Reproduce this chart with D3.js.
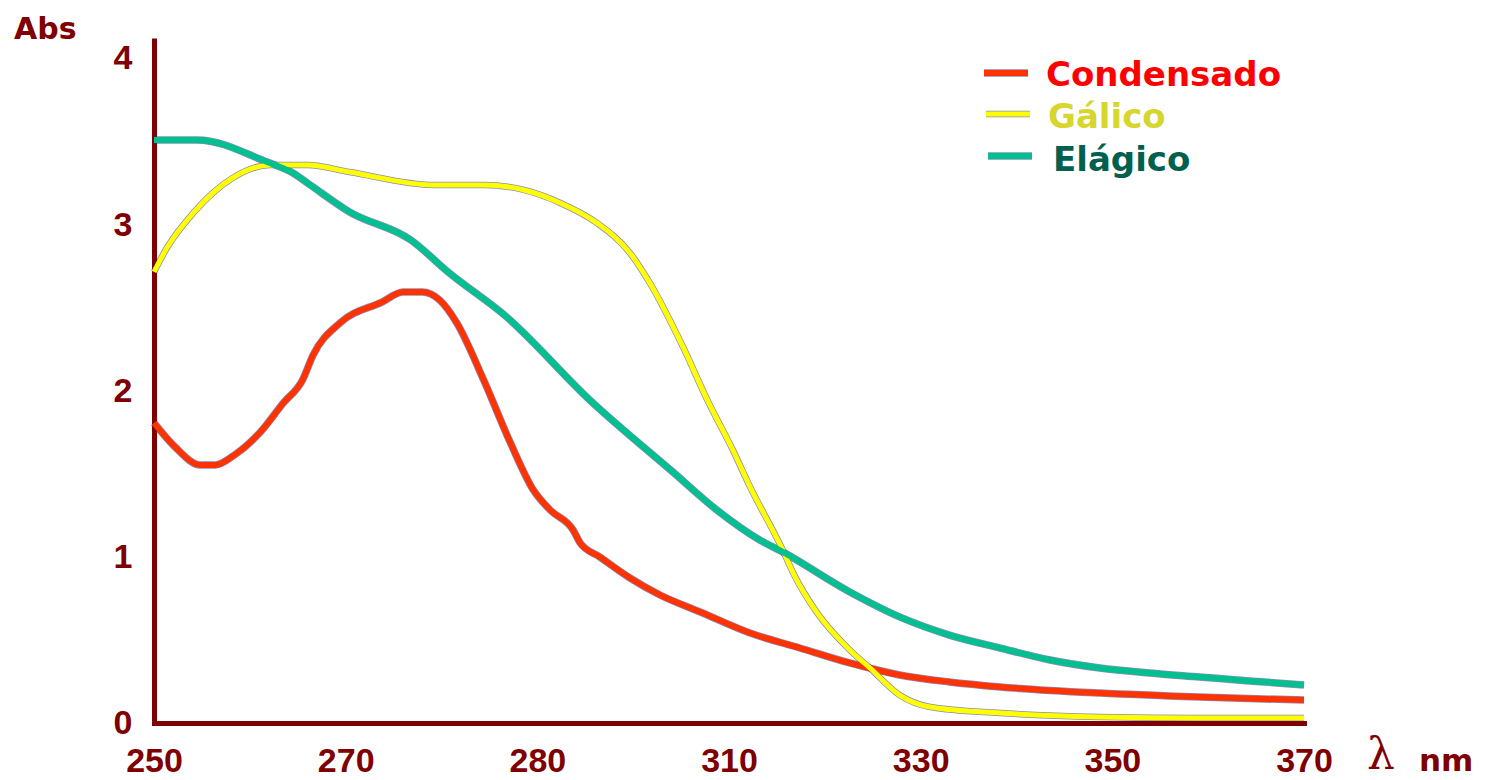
<!DOCTYPE html>
<html>
<head>
<meta charset="utf-8">
<script src="https://cdn.jsdelivr.net/npm/d3@7"></script>
<style>
  body { margin: 0; background: #fff; }
  svg { display: block; }
</style>
</head>
<body>
<svg id="chart"></svg>
<script>
"use strict";
// wavelength ticks (evenly spaced on the original, even though the values are not)
var xTicks = [250, 270, 280, 310, 330, 350, 370];
var yTicks = [0, 1, 2, 3, 4];

// Condensado
var condWl  = [250, 252.2, 254.8, 256.4, 258.4, 261.1, 263.5, 265.5, 266.6, 269.4, 271.9, 273.0, 274.0, 274.9, 275.8, 277.2, 278.6, 279.8, 282.0, 285.6, 286.7, 289.8, 294.5, 299.2, 305.5, 312.2, 317.4, 322.6, 327.8, 333.0, 338.3, 348.7, 359.1, 370];
var condAbs = [1.805, 1.66, 1.552, 1.552, 1.612, 1.75, 1.925, 2.063, 2.213, 2.406, 2.532, 2.592, 2.592, 2.544, 2.406, 2.063, 1.684, 1.40, 1.281, 1.161, 1.083, 0.998, 0.872, 0.770, 0.668, 0.541, 0.451, 0.361, 0.289, 0.247, 0.217, 0.180, 0.156, 0.138];

// Gálico
var galWl  = [250, 251.4, 254.1, 258.2, 262.1, 266.0, 270.2, 274.6, 277.2, 279.3, 283.6, 289.3, 294.5, 297.6, 302.8, 306.6, 310.4, 312.2, 315.6, 316.7, 319.2, 322.6, 324.7, 327.8, 331.0, 338.3, 348.7, 359.1, 370];
var galAbs = [2.713, 2.863, 3.068, 3.278, 3.356, 3.356, 3.314, 3.236, 3.236, 3.206, 3.128, 3.008, 2.827, 2.647, 2.262, 1.943, 1.642, 1.42, 1.041, 0.902, 0.662, 0.439, 0.331, 0.168, 0.096, 0.060, 0.036, 0.030, 0.030];

// Elágico
var elaWl  = [250, 254.5, 261.8, 264.5, 266.3, 270.2, 273.4, 275.4, 278.4, 288.2, 301.2, 308.1, 313.2, 315.6, 322.6, 327.8, 333.0, 338.3, 343.5, 348.7, 353.9, 359.1, 364.3, 370];
var elaAbs = [3.507, 3.507, 3.374, 3.308, 3.236, 3.074, 2.905, 2.707, 2.442, 1.943, 1.510, 1.281, 1.101, 1.029, 0.788, 0.638, 0.529, 0.451, 0.379, 0.331, 0.301, 0.277, 0.253, 0.229];

var seriesNames = ["Condensado", "Gálico", "Elágico"];
var lineColors  = ["#ff3300", "#ffff00", "#00c090"];
var textColors  = ["#ff0000", "#d6d62e", "#00604f"];

var width = 1486, height = 780;
var axisColor = "#7f0000";

var svg = d3.select("#chart").attr("width", width).attr("height", height);

var x = d3.scaleLinear()
  .domain(xTicks)
  .range(xTicks.map(function(d, i) { return 154 + i * (1304 - 154) / (xTicks.length - 1); }));
var y = d3.scaleLinear().domain([0, 4.12]).range([723, 38]);

function pts(wl, ab) {
  return wl.map(function(d, i) { return [d, ab[i]]; });
}
var series = [pts(condWl, condAbs), pts(galWl, galAbs), pts(elaWl, elaAbs)];

var line = d3.line()
  .x(function(d) { return x(d[0]); })
  .y(function(d) { return y(d[1]); })
  .curve(d3.curveMonotoneX);

// axes
var yAxis = svg.append("g")
  .attr("transform", "translate(154,0)")
  .call(d3.axisLeft(y).tickValues(yTicks).tickSize(0).tickFormat(d3.format("d")));
yAxis.select(".domain").attr("stroke", axisColor).attr("stroke-width", 5);
yAxis.selectAll("text")
  .attr("x", -31).attr("text-anchor", "middle")
  .attr("fill", axisColor)
  .style("font", "bold 34px 'Liberation Sans', Arial, sans-serif");

var xAxis = svg.append("g")
  .attr("transform", "translate(0,723)")
  .call(d3.axisBottom(x).tickValues(xTicks).tickSize(0).tickPadding(25).tickFormat(d3.format("d")));
xAxis.select(".domain").attr("stroke", axisColor).attr("stroke-width", 5).attr("stroke-linecap", "square");
xAxis.selectAll("text")
  .attr("fill", axisColor)
  .style("font", "bold 34px 'Liberation Sans', Arial, sans-serif");

// curves, with the dark fringe of the original drawn underneath
var widths = [6, 5, 6];
series.forEach(function(s, i) {
  svg.append("path").datum(s)
    .attr("fill", "none").attr("stroke", "#2b2b80").attr("stroke-opacity", 0.55)
    .attr("stroke-width", widths[i] + 1.5).attr("d", line);
});
series.forEach(function(s, i) {
  svg.append("path").datum(s)
    .attr("fill", "none").attr("stroke", lineColors[i])
    .attr("stroke-width", widths[i]).attr("stroke-linejoin", "round").attr("d", line);
});

// axis titles
svg.append("text").attr("x", 14).attr("y", 39)
  .attr("fill", axisColor)
  .style("font", "bold 30px 'DejaVu Sans', sans-serif")
  .text("Abs");
svg.append("text").attr("x", 1367).attr("y", 769)
  .attr("fill", axisColor)
  .style("font", "44px 'DejaVu Serif', 'Liberation Serif', serif")
  .text("λ");
svg.append("text").attr("x", 1419).attr("y", 771)
  .attr("fill", axisColor)
  .style("font", "bold 31px 'DejaVu Sans', sans-serif")
  .text("nm");

// legend
var legY = [73, 114, 156];
var legTextX = [1046, 1048, 1053];
var legTextY = [86, 128, 171];
var legend = svg.append("g");
seriesNames.forEach(function(name, i) {
  legend.append("line")
    .attr("x1", 984 + i * 2).attr("x2", 1028 + i * 2)
    .attr("y1", legY[i]).attr("y2", legY[i])
    .attr("stroke", "#2b2b80").attr("stroke-opacity", 0.55).attr("stroke-width", widths[i] + 1.5);
  legend.append("line")
    .attr("x1", 984 + i * 2).attr("x2", 1028 + i * 2)
    .attr("y1", legY[i]).attr("y2", legY[i])
    .attr("stroke", lineColors[i]).attr("stroke-width", widths[i]);
  legend.append("text")
    .attr("x", legTextX[i]).attr("y", legTextY[i])
    .attr("fill", textColors[i])
    .style("font", "bold 34px 'DejaVu Sans', sans-serif")
    .text(name);
});
</script>
</body>
</html>
